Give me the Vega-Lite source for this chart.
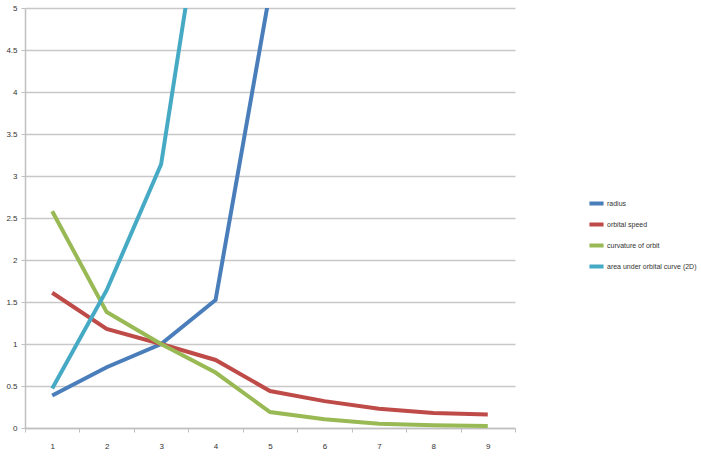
{
  "$schema": "https://vega.github.io/schema/vega-lite/v6.json",
  "width": 490,
  "height": 420,
  "autosize": {"type": "none"},
  "padding": {"left": 25, "top": 8, "right": 186, "bottom": 40},
  "background": "white",
  "config": {
    "font": "Liberation Sans",
    "view": {"stroke": null},
    "axis": {"labelFont": "Liberation Sans", "labelFontSize": 8, "labelColor": "#333333", "domainColor": "#c0c0c0", "tickColor": "#c0c0c0", "gridColor": "#c8c8c8"},
    "legend": {"labelFont": "Liberation Sans"}
  },
  "data": {
    "values": [
      {"x": "1", "series": "radius", "value": 0.387},
      {"x": "2", "series": "radius", "value": 0.723},
      {"x": "3", "series": "radius", "value": 1.0},
      {"x": "4", "series": "radius", "value": 1.524},
      {"x": "5", "series": "radius", "value": 5.2},
      {"x": "6", "series": "radius", "value": 9.54},
      {"x": "7", "series": "radius", "value": 19.2},
      {"x": "8", "series": "radius", "value": 30.1},
      {"x": "9", "series": "radius", "value": 39.5},
      {"x": "1", "series": "orbital speed", "value": 1.61},
      {"x": "2", "series": "orbital speed", "value": 1.18},
      {"x": "3", "series": "orbital speed", "value": 1.0},
      {"x": "4", "series": "orbital speed", "value": 0.81},
      {"x": "5", "series": "orbital speed", "value": 0.44},
      {"x": "6", "series": "orbital speed", "value": 0.32},
      {"x": "7", "series": "orbital speed", "value": 0.23},
      {"x": "8", "series": "orbital speed", "value": 0.18},
      {"x": "9", "series": "orbital speed", "value": 0.16},
      {"x": "1", "series": "curvature of orbit", "value": 2.58},
      {"x": "2", "series": "curvature of orbit", "value": 1.38},
      {"x": "3", "series": "curvature of orbit", "value": 1.0},
      {"x": "4", "series": "curvature of orbit", "value": 0.66},
      {"x": "5", "series": "curvature of orbit", "value": 0.19},
      {"x": "6", "series": "curvature of orbit", "value": 0.105},
      {"x": "7", "series": "curvature of orbit", "value": 0.052},
      {"x": "8", "series": "curvature of orbit", "value": 0.033},
      {"x": "9", "series": "curvature of orbit", "value": 0.025},
      {"x": "1", "series": "area under orbital curve (2D)", "value": 0.47},
      {"x": "2", "series": "area under orbital curve (2D)", "value": 1.64},
      {"x": "3", "series": "area under orbital curve (2D)", "value": 3.14},
      {"x": "4", "series": "area under orbital curve (2D)", "value": 7.3},
      {"x": "5", "series": "area under orbital curve (2D)", "value": 85},
      {"x": "6", "series": "area under orbital curve (2D)", "value": 286},
      {"x": "7", "series": "area under orbital curve (2D)", "value": 1158},
      {"x": "8", "series": "area under orbital curve (2D)", "value": 2846},
      {"x": "9", "series": "area under orbital curve (2D)", "value": 4902}
    ]
  },
  "mark": {"type": "line", "strokeWidth": 4, "clip": true, "strokeJoin": "miter"},
  "encoding": {
    "x": {
      "field": "x", "type": "ordinal",
      "scale": {"paddingInner": 0, "paddingOuter": 0},
      "axis": {"title": null, "labelAngle": 0, "tickBand": "extent", "tickSize": 4, "labelPadding": 10, "domainWidth": 1.5, "grid": false}
    },
    "y": {
      "field": "value", "type": "quantitative",
      "scale": {"domain": [0, 5], "nice": false},
      "axis": {"title": null, "values": [0, 0.5, 1, 1.5, 2, 2.5, 3, 3.5, 4, 4.5, 5], "format": ".2~f", "tickSize": 4, "labelPadding": 4, "gridWidth": 1.5, "domainWidth": 1.5}
    },
    "color": {
      "field": "series", "type": "nominal",
      "scale": {
        "domain": ["radius", "orbital speed", "curvature of orbit", "area under orbital curve (2D)"],
        "range": ["#4A7EBB", "#BE4B48", "#98B954", "#46AAC5"]
      },
      "legend": {
        "title": null, "orient": "none", "legendX": 562, "legendY": 186,
        "symbolType": "stroke", "symbolSize": 200, "symbolStrokeWidth": 4,
        "labelFontSize": 7, "labelColor": "#333333", "rowPadding": 3, "labelOffset": 1, "labelLimit": 200
      }
    }
  }
}
